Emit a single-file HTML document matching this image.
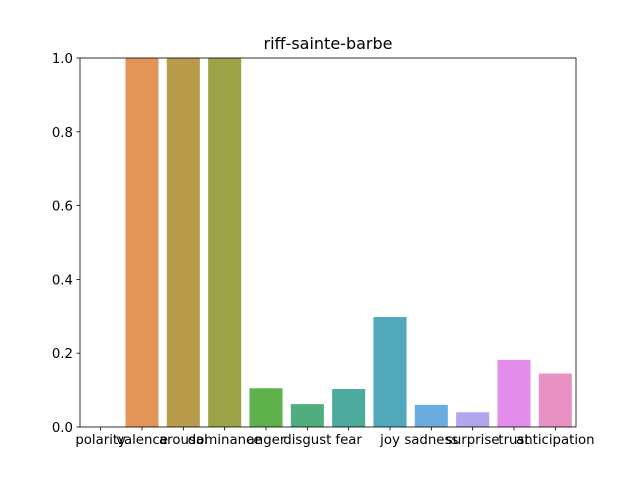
<!DOCTYPE html>
<html><head><meta charset="utf-8"><style>
body{margin:0;background:#fff;}
svg text{font-family:"DejaVu Sans","Liberation Sans",sans-serif;fill:#000;}
</style></head><body>
<svg width="640" height="480" viewBox="0 0 640 480">
<rect width="640" height="480" fill="#fff"/>
<text x="328" y="49" font-size="16" text-anchor="middle">riff-sainte-barbe</text>
<g id="bars"></g>
<g id="axes"></g>
</svg>
<script>
const categories=["polarity","valence","arousal","dominance","anger","disgust","fear","joy","sadness","surprise","trust","anticipation"];
const values=[0,1,1,1,0.105,0.062,0.103,0.298,0.06,0.04,0.182,0.145];
const colors=["#e8808e","#e39458","#b99b4c","#9ba548","#5fb14c","#4fad7e","#4dab9e","#52a8bb","#6aabe0","#b3a4ee","#e18de9","#e892c4"];
const yTicks=[0,0.2,0.4,0.6,0.8,1.0];
const L=80,R=576,T=58,B=427;
const ns="http://www.w3.org/2000/svg";
const band=(R-L)/categories.length;
const x=i=>L+band*i;
const y=v=>B-(v/1)*(B-T);
const bars=document.getElementById('bars'),axes=document.getElementById('axes');
function mk(tag,attrs,parent){const e=document.createElementNS(ns,tag);for(const k in attrs)e.setAttribute(k,attrs[k]);parent.appendChild(e);return e;}
categories.forEach((c,i)=>{
  const r=mk('rect',{x:x(i)+band*0.1,y:y(values[i]),width:band*0.8,height:B-y(values[i]),fill:colors[i]},bars);
  
  
  const cx=x(i)+band/2;
  mk('line',{x1:cx,x2:cx,y1:B,y2:B+3.5,stroke:'#000','stroke-width':0.8},axes);
  const t=mk('text',{x:cx,y:B+17,'font-size':13.3,'text-anchor':'middle'},axes);
  t.textContent=c;
  
  
});
yTicks.forEach(v=>{
  mk('line',{x1:L-3.5,x2:L,y1:y(v),y2:y(v),stroke:'#000','stroke-width':0.8},axes);
  const t=mk('text',{x:L-7,y:y(v)+5,'font-size':13.3,'text-anchor':'end'},axes);
  t.textContent=v.toFixed(1);
  
  
});
const f=mk('rect',{x:L,y:T,width:R-L,height:B-T,fill:'none',stroke:'#000','stroke-width':0.8},axes);


</script>
</body></html>
